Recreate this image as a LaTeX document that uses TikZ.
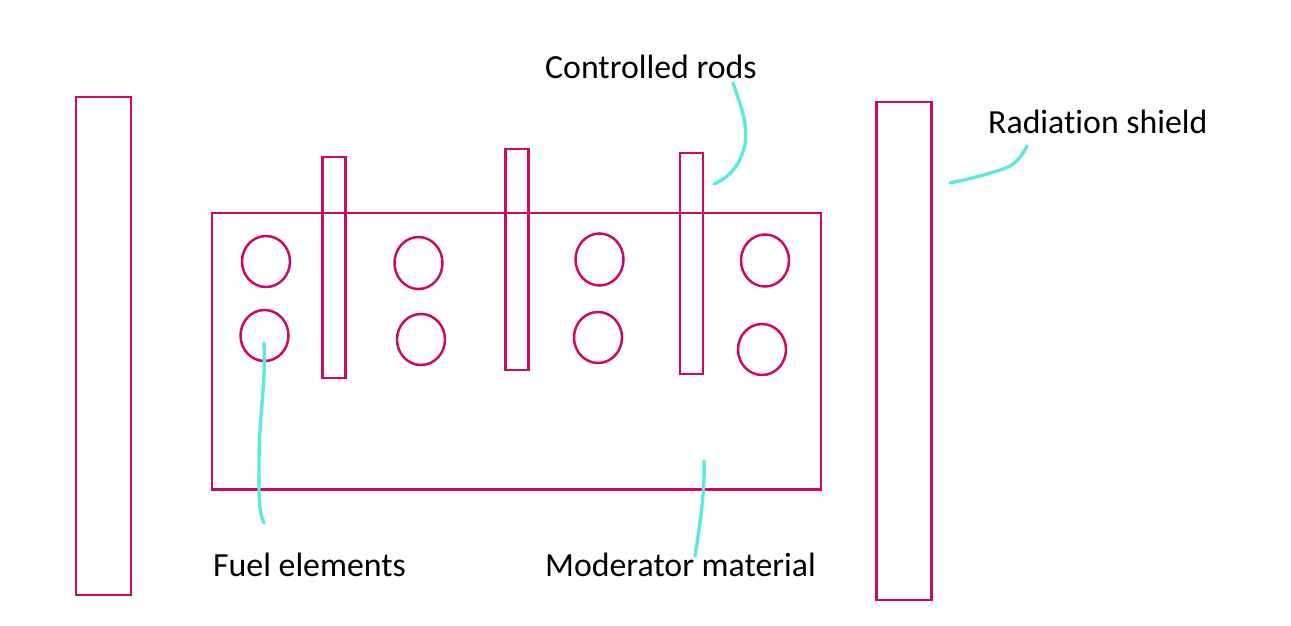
\documentclass[tikz,border=0pt]{standalone}
\usepackage{fontspec}
\setmainfont{Carlito}[Ligatures=CommonOff]
\begin{document}
\begin{tikzpicture}[x=1pt,y=-1pt,
 box/.style={draw=shape,line width=2.5pt,fill=none},
 lead/.style={draw=leadc,line width=3.4pt,line cap=round,line join=round},
 lab/.style={anchor=base west,inner sep=0pt,font=\fontsize{33.8pt}{38pt}\selectfont,text=black}]
\definecolor{shape}{HTML}{CC0A66}
\definecolor{leadc}{HTML}{5FE8DE}
\useasboundingbox (0,0) rectangle (1291,626);
\fill[white] (0,0) rectangle (1291,626);
\node[box,inner sep=0pt,minimum width=55pt,minimum height=498pt] (shieldL) at (103.5,346) {};
\node[box,inner sep=0pt,minimum width=55pt,minimum height=498pt] (shieldR) at (904,351) {};
\node[box,inner sep=0pt,minimum width=609pt,minimum height=276.5pt] (mod) at (516.5,351.2) {};
\node[box,inner sep=0pt,minimum width=23pt,minimum height=221pt] (rodA) at (334,267.5) {};
\node[box,inner sep=0pt,minimum width=23pt,minimum height=221pt] (rodB) at (517,259.5) {};
\node[box,inner sep=0pt,minimum width=23pt,minimum height=221pt] (rodC) at (691.5,263.5) {};
\foreach \n/\x/\y/\h in {a/266/261.5/51,b/418.5/263/52,c/599.5/259.5/52,d/765/260.5/52,e/264.5/335.5/51,f/421/339.5/51,g/598/337.5/51,h/762/349.5/51}
 \draw[box] (\x,\y) ellipse (24 and \h/2);
\coordinate (ef) at (264,343);
\coordinate (ec) at (714,184);
\coordinate (es) at (950,183);
\coordinate (em) at (704,461);
\node[lab] (fuel) at (213,576.5) {Fuel elements};
\node[lab] (moder) at (545,576.5) {Moderator material};
\node[lab] (rods) at (545,79) {Controlled rods};
\node[lab] (rad) at (988,133.5) {Radiation shield};
\draw[lead] (ef) .. controls (266,380) and (259,420) .. (259,460) .. controls (259,490) and (258,510) .. (264,523);
\draw[lead] (em) .. controls (705,490) and (700,525) .. (695,556);
\draw[lead] (733,83) .. controls (740,105) and (748,120) .. (745,145) .. controls (740,165) and (730,177) .. (ec);
\draw[lead] (1027,146) .. controls (1020,160) and (1012,167) .. (1000,170) .. controls (985,175) and (965,180) .. (es);
\end{tikzpicture}
\end{document}
